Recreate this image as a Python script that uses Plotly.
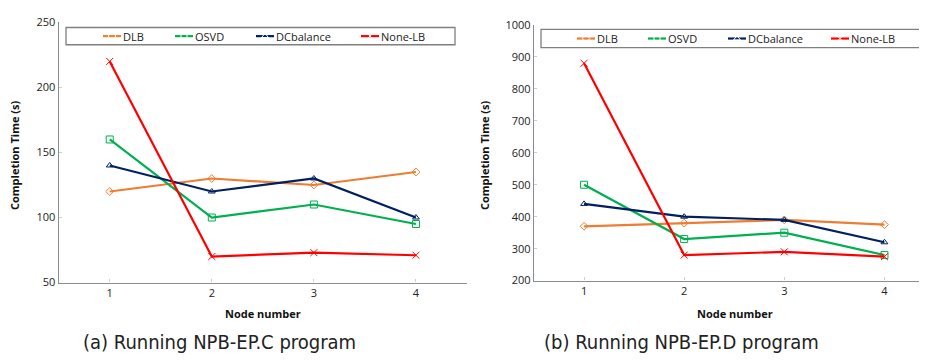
import plotly.graph_objects as go

W, H = 927, 364

nodes = [1, 2, 3, 4]
series_names = ["DLB", "OSVD", "DCbalance", "None-LB"]

# (a) NPB-EP.C
c_dlb = [120, 130, 125, 135]
c_osvd = [160, 100, 110, 95]
c_dcb = [140, 120, 130, 100]
c_none = [220, 70, 73, 71]

# (b) NPB-EP.D
d_dlb = [370, 380, 390, 375]
d_osvd = [500, 330, 350, 280]
d_dcb = [440, 400, 390, 320]
d_none = [880, 280, 290, 275]

colors = ["#ED7D31", "#00B050", "#002060", "#FF0000"]
symbols = ["diamond-open", "square-open", "triangle-up-open", "x-thin-open"]
msizes = [6, 7, 6, 7]

FONT = "Open Sans, Lato, sans-serif"

fig = go.Figure()

def add_panel(vals, xa, ya):
    for i, (name, v) in enumerate(zip(series_names, vals)):
        fig.add_trace(go.Scatter(
            x=nodes, y=v, name=name, mode="lines+markers",
            line=dict(color=colors[i], width=2.2),
            marker=dict(symbol=symbols[i], size=msizes[i], color=colors[i],
                        line=dict(color=colors[i], width=1)),
            xaxis=xa, yaxis=ya, showlegend=False, cliponaxis=False))

add_panel([c_dlb, c_osvd, c_dcb, c_none], "x", "y")
add_panel([d_dlb, d_osvd, d_dcb, d_none], "x2", "y2")

def px_x(p):
    return p / W

def px_y(p):
    return 1 - p / H

axis_common = dict(showgrid=False, zeroline=False, showline=True, linecolor="#8c8c8c",
                   linewidth=1.3, ticks="inside", ticklen=3, tickcolor="#d0d0d0",
                   tickfont=dict(family=FONT, size=11, color="#222"))

fig.update_layout(
    width=W, height=H, margin=dict(l=0, r=0, t=0, b=0),
    paper_bgcolor="white", plot_bgcolor="rgba(0,0,0,0)",
    xaxis=dict(domain=[px_x(50.7), px_x(459)], range=[0.5, 4.5], tickvals=nodes,
               ticktext=[str(n) for n in nodes], anchor="y", **axis_common),
    yaxis=dict(domain=[px_y(278), px_y(6.7)], range=[50, 250], tickvals=[50, 100, 150, 200, 250],
               anchor="x", **axis_common),
    xaxis2=dict(domain=[px_x(526), px_x(926.5)], range=[0.5, 4.5], tickvals=nodes,
                ticktext=[str(n) for n in nodes], anchor="y2", **axis_common),
    yaxis2=dict(domain=[px_y(276), px_y(9.3)], range=[200, 1000],
                tickvals=[200, 300, 400, 500, 600, 700, 800, 900, 1000], anchor="x2", **axis_common),
)

annos = []
shapes = []

# Y axis titles
for xc, yc in [(6, 145), (476, 145)]:
    annos.append(dict(x=px_x(xc), y=px_y(yc), xref="paper", yref="paper", text="<b>Completion Time (s)</b>",
                      textangle=-90, showarrow=False, font=dict(family=FONT, size=11, color="#111"),
                      xanchor="center", yanchor="middle"))
# X axis titles
for xc in [255, 727]:
    annos.append(dict(x=px_x(xc), y=px_y(310), xref="paper", yref="paper", text="<b>Node number</b>",
                      showarrow=False, font=dict(family=FONT, size=11, color="#111"),
                      xanchor="center", yanchor="middle"))
# Captions
for xc, txt in [(211, "(a) Running NPB-EP.C program"), (673, "(b) Running NPB-EP.D program")]:
    annos.append(dict(x=px_x(xc), y=px_y(340), xref="paper", yref="paper", text=txt,
                      showarrow=False, font=dict(family="DejaVu Sans Condensed, sans-serif",
                                                 size=20, color="#222"),
                      xanchor="center", yanchor="middle"))

# Legends (boxed, drawn manually)
legend_boxes = [
    (58, 447, 12, 30, [95, 167, 248, 353]),
    (533, 914, 14, 33, [569, 640, 720, 823]),
]
for (x0, x1, y0, y1, starts) in legend_boxes:
    shapes.append(dict(type="rect", xref="paper", yref="paper", x0=px_x(x0), x1=px_x(x1),
                       y0=px_y(y1), y1=px_y(y0), line=dict(color="#7f7f7f", width=1.3),
                       fillcolor="white", layer="below"))
    yc = (y0 + y1) / 2
    for i, s in enumerate(starts):
        shapes.append(dict(type="line", xref="paper", yref="paper", x0=px_x(s), x1=px_x(s + 18),
                           y0=px_y(yc), y1=px_y(yc), line=dict(color=colors[i], width=2.2), layer="below"))
        annos.append(dict(x=px_x(s + 18), y=px_y(yc), xref="paper", yref="paper", text=series_names[i],
                          showarrow=False, xanchor="left", yanchor="middle",
                          font=dict(family=FONT, size=11, color="#222")))
fig.update_layout(annotations=annos, shapes=shapes)

# legend marker symbols on a hidden pixel-space overlay axis
lx, ly, lsym, lcol = [], [], [], []
for (x0, x1, y0, y1, starts) in legend_boxes:
    yc = (y0 + y1) / 2
    for i, s in enumerate(starts):
        lx.append(s + 9)
        ly.append(yc)
        lsym.append(symbols[i])
        lcol.append(colors[i])
fig.add_trace(go.Scatter(x=lx, y=ly, mode="markers", xaxis="x3", yaxis="y3", showlegend=False,
                         marker=dict(symbol=lsym, size=6, color="white", line=dict(color=lcol, width=1))))
fig.update_layout(
    xaxis3=dict(domain=[0, 1], range=[0, W], visible=False, anchor="y3"),
    yaxis3=dict(domain=[0, 1], range=[H, 0], visible=False, anchor="x3"),
)

fig.write_html("out.html")
